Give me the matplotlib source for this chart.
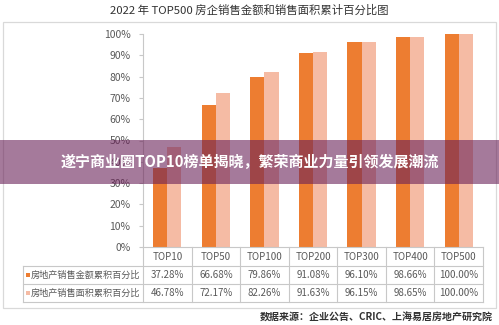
import matplotlib
matplotlib.use('Agg')
import matplotlib.pyplot as plt
import numpy as np
from matplotlib.transforms import blended_transform_factory
from matplotlib.patches import Rectangle

plt.rcParams['font.family'] = ['Noto Sans CJK SC', 'DejaVu Sans']

categories = ['TOP10', 'TOP50', 'TOP100', 'TOP200', 'TOP300', 'TOP400', 'TOP500']
sales_amount = [37.28, 66.68, 79.86, 91.08, 96.10, 98.66, 100.00]
sales_area = [46.78, 72.17, 82.26, 91.63, 96.15, 98.65, 100.00]
series_names = ['房地产销售金额累积百分比', '房地产销售面积累积百分比']
yticks = [0, 10, 20, 30, 40, 50, 60, 70, 80, 90, 100]

title = '2022 年 TOP500 房企销售金额和销售面积累计百分比图'
source = '数据来源：企业公告、CRIC、上海易居房地产研究院'
banner = '遂宁商业圈TOP10榜单揭晓，繁荣商业力量引领发展潮流'

dark = '#ED7D31'
light = '#F5BBA4'
grid_c = '#C8C8C8'
text_c = '#595959'

W, H = 499, 325
fig = plt.figure(figsize=(W / 100, H / 100), dpi=100)
fig.patch.set_facecolor('white')

# plot area in pixel units
x0, x1 = 143, 483
y_top, y_bot = 34, 247
ax = fig.add_axes([x0 / W, (H - y_bot) / H, (x1 - x0) / W, (y_bot - y_top) / H])
x = np.arange(len(categories))
bw = 0.29
ax.bar(x - bw / 2, sales_amount, bw, color=dark, zorder=2)
ax.bar(x + bw / 2, sales_area, bw, color=light, zorder=2)
ax.set_xlim(-0.5, len(categories) - 0.5)
ax.set_ylim(0, 100)
ax.set_yticks(yticks)
ax.set_yticklabels(['%d%%' % v for v in yticks], fontsize=7.5, color=text_c)
ax.set_xticks([])
for s in ['top', 'right']:
    ax.spines[s].set_visible(False)
ax.spines['left'].set_color(grid_c)
ax.spines['bottom'].set_color(grid_c)
ax.spines['left'].set_linewidth(0.8)
ax.spines['bottom'].set_linewidth(0.8)
ax.tick_params(axis='y', length=3, width=0.8, color=grid_c, pad=6)
ax.patch.set_alpha(0)

# overlay in pixel coordinates for frame, table and banner
deco = fig.add_axes([0, 0, 1, 1], zorder=5)
deco.set_xlim(0, W)
deco.set_ylim(H, 0)
deco.axis('off')
deco.patch.set_alpha(0)

deco.add_patch(Rectangle((3, 22), 493, 286, fill=False, edgecolor='#D9D9D9', lw=0.9))
deco.text(W / 2, 10, title, ha='center', va='center', fontsize=8.2, color='#333333')
deco.text(493, 318, source, ha='right', va='center', fontsize=7.2,
          fontweight='bold', color='#333333')

# table under the bars
tb = blended_transform_factory(ax.transData, deco.transData)
rows = [247, 266, 284, 302]
for yy in rows[1:]:
    deco.plot([23, x1], [yy, yy], color=grid_c, lw=0.8)
deco.plot([23, 23], [rows[1], rows[3]], color=grid_c, lw=0.8)
for k in range(len(categories) + 1):
    deco.plot([k - 0.5, k - 0.5], [rows[0], rows[3]], color=grid_c, lw=0.8, transform=tb)

for i, cat in enumerate(categories):
    deco.text(i, (rows[0] + rows[1]) / 2, cat, ha='center', va='center',
              fontsize=7, color=text_c, transform=tb)
    deco.text(i, (rows[1] + rows[2]) / 2, '%.2f%%' % sales_amount[i], ha='center',
              va='center', fontsize=7, color=text_c, transform=tb)
    deco.text(i, (rows[2] + rows[3]) / 2, '%.2f%%' % sales_area[i], ha='center',
              va='center', fontsize=7, color=text_c, transform=tb)

for j, (name, col) in enumerate(zip(series_names, [dark, light])):
    yc = (rows[j + 1] + rows[j + 2]) / 2
    deco.add_patch(Rectangle((26, yc - 2.5), 4, 4, color=col, lw=0))
    deco.text(31, yc, name, ha='left', va='center', fontsize=6.6, color=text_c)

# translucent headline band
deco.add_patch(Rectangle((0, 140), W, 44, color='#6A2158', alpha=0.6, lw=0, zorder=6))
deco.text(W / 2, 162, banner, ha='center', va='center', fontsize=10.8,
          fontweight='bold', color='white', zorder=7)

fig.savefig('out.png', dpi=100)
